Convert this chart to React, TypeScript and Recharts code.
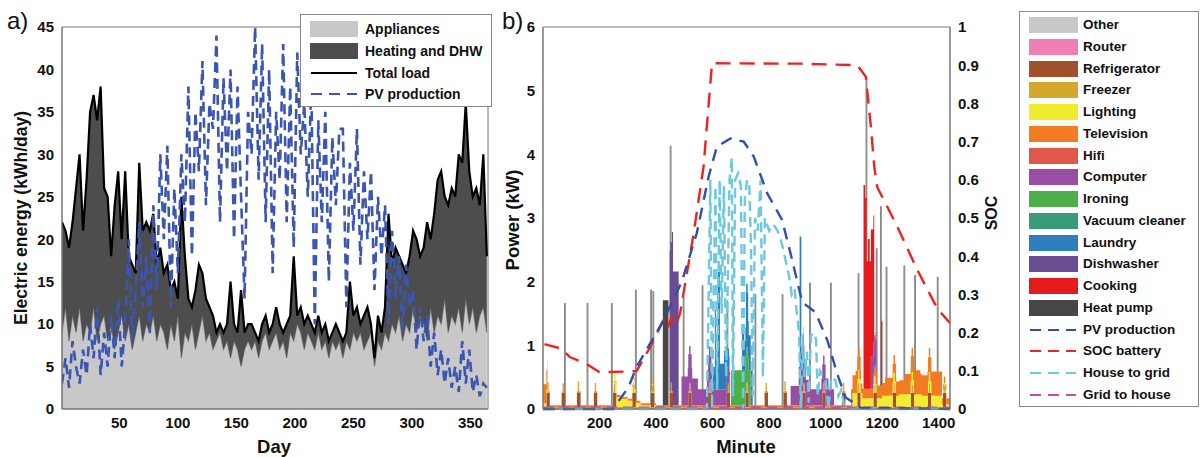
import React from 'react'
import { ComposedChart, Area, Line, XAxis, YAxis, ReferenceArea } from 'recharts'

const FONT = '"Liberation Sans", Arial, Helvetica, sans-serif'

// ---------- a) daily energy over the year, read every 3rd day ----------
const DAY_STEP = 3
const totalLoad = [
  22, 21, 19, 22, 26, 30, 21, 27, 35, 37,
  34, 38, 26, 25, 18, 24, 28, 20, 28, 18,
  17, 16, 29, 21, 22, 21, 23, 17, 19, 16,
  17, 14, 15, 13, 25, 18, 13, 12, 14, 17,
  16, 13, 12, 11, 9, 10, 9, 10, 15, 10,
  9, 14, 9, 10, 10, 9, 8, 10, 11, 9,
  10, 12, 10, 9, 10, 11, 18, 11, 12, 10,
  11, 10, 9, 11, 9, 10, 8, 9, 10, 9,
  8, 9, 15, 11, 12, 10, 11, 12, 10, 6,
  11, 9, 12, 23, 17, 19, 18, 17, 16, 18,
  21, 20, 18, 19, 22, 20, 23, 27, 28, 25,
  24, 26, 25, 30, 29, 36, 28, 25, 26, 24,
  30, 18,
]
const appliances = [
  9, 12, 8, 11, 9, 12, 8, 10, 9, 12,
  8, 10, 11, 8, 10, 7, 9, 11, 8, 10,
  7, 9, 11, 8, 10, 9, 11, 8, 10, 9,
  7, 10, 8, 11, 6, 9, 8, 10, 7, 9,
  11, 8, 9, 7, 8, 9, 7, 8, 6, 8,
  7, 5, 7, 8, 7, 8, 6, 8, 9, 7,
  8, 9, 7, 8, 6, 9, 8, 10, 9, 7,
  9, 8, 7, 9, 7, 8, 6, 8, 7, 8,
  6, 8, 7, 9, 8, 9, 7, 8, 9, 5,
  8, 7, 9, 8, 10, 9, 11, 8, 10, 9,
  12, 9, 11, 10, 8, 12, 9, 11, 10, 13,
  9, 11, 10, 12, 9, 13, 10, 12, 9, 11,
  12, 9,
]
const pvDaily = [
  3, 6, 2.5, 8, 5, 3, 7, 4, 10, 6,
  12, 4, 9, 5, 11, 6, 13, 5, 10, 20,
  8, 14, 22, 12, 18, 9, 24, 14, 30, 20,
  31, 12, 26, 16, 30, 22, 38, 18, 35, 28,
  41, 24, 36, 33, 44, 22, 39, 28, 40, 20,
  38, 25, 13, 35, 30, 45, 27, 43, 22, 40,
  16, 35, 27, 43, 22, 38, 19, 42, 30, 36,
  25, 38, 10, 34, 22, 35, 15, 32, 24, 33,
  33, 12, 29, 21, 33, 17, 28, 20, 28, 14,
  25, 18, 24, 10, 21, 13, 18, 9, 17, 12,
  14, 7, 12, 8, 11, 5, 9, 4, 7, 3,
  6, 2.5, 5, 2, 8, 3, 7, 2, 4, 1.5,
  3, 2.5,
]
const dayTicks = [50, 100, 150, 200, 250, 300, 350]
const energyTicks = [0, 5, 10, 15, 20, 25, 30, 35, 40, 45]

const yearData = totalLoad.map((t, i) => ({
  day: 1 + i * DAY_STEP,
  appliances: appliances[i],
  heating: Math.max(0, t - appliances[i]),
  total: t,
  pv: pvDaily[i],
}))

// ---------- b) one day, minute resolution ----------
type Ev = [number, number, number] // start minute, end minute, kW
type Pt = [number, number]

const routerOn: Ev[] = [[0, 1440, 0.03]]
const fridgeOn: Ev[] = [
  [12, 24, 0.22], [66, 78, 0.22], [120, 133, 0.22], [180, 192, 0.22], [248, 260, 0.22],
  [316, 328, 0.22], [382, 394, 0.22], [448, 460, 0.22], [514, 526, 0.22], [584, 596, 0.22],
  [650, 662, 0.22], [716, 728, 0.22], [784, 796, 0.22], [851, 863, 0.22], [918, 930, 0.22],
  [988, 1000, 0.22], [1058, 1070, 0.22], [1112, 1124, 0.22], [1169, 1181, 0.22],
  [1237, 1249, 0.22], [1301, 1313, 0.22], [1362, 1374, 0.22], [1415, 1427, 0.22],
]
const freezerOn: Ev[] = [
  [15, 20, 0.14], [69, 74, 0.12], [123, 128, 0.15], [183, 188, 0.13], [251, 256, 0.15],
  [319, 324, 0.14], [385, 390, 0.12], [451, 456, 0.14], [517, 522, 0.13], [587, 592, 0.15],
  [653, 658, 0.12], [719, 724, 0.14], [787, 792, 0.13], [854, 859, 0.15], [921, 926, 0.12],
  [991, 996, 0.14], [1061, 1066, 0.13], [1115, 1120, 0.15], [1172, 1177, 0.12],
  [1240, 1245, 0.14], [1304, 1309, 0.13], [1365, 1370, 0.15], [1418, 1423, 0.12],
]
const lightingOn: Ev[] = [
  [0, 16, 0.06], [250, 275, 0.16], [275, 300, 0.13], [300, 322, 0.1], [322, 345, 0.07],
  [345, 400, 0.03], [1095, 1130, 0.22], [1130, 1200, 0.14], [1200, 1260, 0.18],
  [1260, 1340, 0.2], [1340, 1412, 0.18], [1412, 1440, 0.04],
]
const televisionOn: Ev[] = [
  [0, 16, 0.3], [16, 1090, 0.03], [1090, 1106, 0.28], [1106, 1125, 0.35], [1125, 1176, 0.15],
  [1176, 1210, 0.2], [1210, 1250, 0.28], [1250, 1280, 0.22], [1280, 1300, 0.32],
  [1300, 1335, 0.38], [1335, 1360, 0.32], [1360, 1412, 0.38], [1412, 1440, 0.1],
]
const hifiOn: Ev[] = []
const computerOn: Ev[] = [
  [490, 512, 0.45], [512, 528, 0.58], [528, 548, 0.42], [548, 580, 0.25], [580, 598, 0.55],
  [598, 660, 0.25], [876, 905, 0.3], [905, 925, 0.6], [925, 940, 0.4], [940, 985, 0.25],
  [985, 1010, 0.42], [1010, 1030, 0.25], [1160, 1180, 0.5],
]
const ironingOn: Ev[] = [[665, 671, 0.55], [671, 675, 1.6], [675, 735, 0.55]]
const vacuumOn: Ev[] = []
const laundryOn: Ev[] = [
  [600, 608, 0.35], [608, 612, 1.25], [612, 618, 0.45], [618, 626, 1.85], [626, 640, 0.4],
  [640, 650, 0.6], [650, 662, 0.3], [704, 712, 0.7], [712, 718, 0.45], [718, 726, 1.0],
  [726, 742, 0.55], [908, 914, 2.05], [914, 922, 0.3],
]
const dishwasherOn: Ev[] = [[448, 456, 2.2], [456, 460, 2.5], [460, 480, 2.1]]
const cookingOn: Ev[] = [
  [1134, 1140, 3.2], [1140, 1145, 3.0], [1145, 1150, 2.0], [1150, 1156, 2.35],
  [1156, 1172, 2.0], [1196, 1201, 1.0],
]
const heatPumpOn: Ev[] = [[424, 444, 1.65]]
const otherOn: Ev[] = [
  [76, 79, 1.66], [156, 159, 1.66], [242, 245, 1.66], [327, 330, 1.87], [381, 384, 1.87],
  [389, 392, 1.85], [450, 453, 4.13], [496, 499, 1.76], [563, 566, 1.94], [651, 654, 1.7],
  [750, 753, 1.8], [846, 849, 1.8], [943, 946, 1.98], [1017, 1020, 1.98], [1115, 1118, 2.13],
  [1143, 1146, 5.2], [1179, 1182, 2.52], [1194, 1197, 3.18], [1214, 1217, 2.23],
  [1277, 1280, 2.25], [1315, 1318, 2.1], [1395, 1398, 2.07],
]

const pvPower: Pt[] = [
  [0, 0], [248, 0], [302, 0.34], [331, 0.66], [426, 1.39], [491, 2.0], [544, 2.76],
  [586, 3.65], [615, 4.12], [663, 4.25], [710, 4.2], [746, 3.96], [793, 3.39], [846, 2.97],
  [876, 2.44], [917, 1.68], [940, 1.6], [964, 1.52], [1006, 1.08], [1041, 0.55],
  [1071, 0.18], [1124, 0.02], [1440, 0],
]
const socBattery: Pt[] = [
  [5, 0.17], [65, 0.158], [95, 0.136], [154, 0.118], [201, 0.096], [331, 0.099],
  [379, 0.162], [426, 0.232], [440, 0.21], [455, 0.24], [470, 0.22], [485, 0.25],
  [533, 0.46], [568, 0.634], [598, 0.905], [911, 0.904], [1112, 0.9], [1142, 0.87],
  [1160, 0.74], [1172, 0.634], [1183, 0.58], [1254, 0.477], [1325, 0.363],
  [1396, 0.262], [1440, 0.225],
]
const houseToGrid: Pt[] = [
  [0, 0], [580, 0], [592, 3.6], [598, 0], [610, 3.5], [616, 0.3], [625, 3.6], [632, 1.5],
  [640, 3.5], [648, 0.5], [660, 3.6], [668, 3.95], [672, 0.2], [680, 3.6], [690, 3.7],
  [700, 3.5], [708, 0], [714, 3.3], [722, 3.6], [730, 3.5], [736, 2.5], [742, 0.2],
  [750, 3.0], [760, 2.8], [770, 3.6], [778, 0.5], [785, 3.0], [800, 2.8], [815, 2.9],
  [830, 2.8], [845, 2.6], [860, 2.3], [870, 2.1], [880, 1.8], [890, 1.9], [898, 1.5],
  [906, 1.2], [912, 0], [918, 1.0], [925, 0.5], [934, 0.9], [940, 0.1], [948, 1.15],
  [958, 1.2], [966, 1.1], [972, 0.2], [980, 0.6], [1000, 0.45], [1010, 0], [1020, 0.5],
  [1035, 0.45], [1045, 0.2], [1055, 0.3], [1065, 0.05], [1080, 0], [1440, 0],
]
const gridToHouse: Pt[] = [[0, 0.02], [1440, 0.02]]

const minuteTicks = [200, 400, 600, 800, 1000, 1200, 1400]
const powerTicks = [0, 1, 2, 3, 4, 5, 6]
const socTicks = [0, 0.1, 0.2, 0.3, 0.4, 0.5, 0.6, 0.7, 0.8, 0.9, 1]

// bottom → top of the stack
const stack = [
  { key: 'router', name: 'Router', color: '#f07fb4', events: routerOn },
  { key: 'fridge', name: 'Refrigerator', color: '#a0522d', events: fridgeOn },
  { key: 'freezer', name: 'Freezer', color: '#d4a82a', events: freezerOn },
  { key: 'lighting', name: 'Lighting', color: '#f2ec2e', events: lightingOn },
  { key: 'tv', name: 'Television', color: '#f47c20', events: televisionOn },
  { key: 'hifi', name: 'Hifi', color: '#e0584c', events: hifiOn },
  { key: 'computer', name: 'Computer', color: '#984ea3', events: computerOn },
  { key: 'ironing', name: 'Ironing', color: '#4daf4a', events: ironingOn },
  { key: 'vacuum', name: 'Vacuum cleaner', color: '#3a9a7a', events: vacuumOn },
  { key: 'laundry', name: 'Laundry', color: '#2f7ebc', events: laundryOn },
  { key: 'dishwasher', name: 'Dishwasher', color: '#6a4c93', events: dishwasherOn },
  { key: 'cooking', name: 'Cooking', color: '#e41a1c', events: cookingOn },
  { key: 'heatpump', name: 'Heat pump', color: '#474747', events: heatPumpOn },
]
const lines = [
  { key: 'pv', name: 'PV production', color: '#2f4fb0', pts: pvPower, axis: 'kw', dash: '12 8' },
  { key: 'soc', name: 'SOC battery', color: '#ee2222', pts: socBattery, axis: 'soc', dash: '15 9' },
  { key: 'h2g', name: 'House to grid', color: '#6cc9de', pts: houseToGrid, axis: 'kw', dash: '10 6' },
  { key: 'g2h', name: 'Grid to house', color: '#c04fae', pts: gridToHouse, axis: 'kw', dash: '10 6' },
]

const level = (events: Ev[], t: number) => {
  for (const [a, b, v] of events) if (t >= a && t < b) return v
  return 0
}

const minuteSet = new Set<number>([0, 1440])
for (const s of [...stack.map(s => s.events), otherOn]) for (const [a, b] of s) { minuteSet.add(a); minuteSet.add(b) }
for (const l of lines) for (const [m] of l.pts) minuteSet.add(m)
const minutes = [...minuteSet].sort((a, b) => a - b)

const dayData = minutes.map(t => {
  const row: Record<string, number | undefined> = { minute: t, other: level(otherOn, t) }
  for (const s of stack) row[s.key] = level(s.events, t)
  for (const l of lines) {
    const hit = l.pts.find(p => p[0] === t)
    row[l.key] = hit ? hit[1] : undefined
  }
  return row
})

const tickStyle = { fontSize: 15, fontWeight: 700, fill: '#111', fontFamily: FONT }
const AXIS = '#777'

function LegendLine({ color, dash }: { color: string; dash?: string }) {
  return (
    <svg width={50} height={16} style={{ position: 'absolute', left: 8, top: 0 }}>
      <line x1={2} y1={8} x2={48} y2={8} stroke={color} strokeWidth={2.2} strokeDasharray={dash} />
    </svg>
  )
}

const legendA = [
  { name: 'Appliances', color: '#c8c8c8', kind: 'patch' },
  { name: 'Heating and DHW', color: '#4d4d4d', kind: 'patch' },
  { name: 'Total load', color: '#000', kind: 'line' },
  { name: 'PV production', color: '#3b55b2', kind: 'dash' },
]

const legendB = [
  { name: 'Other', color: '#c8c8c8', kind: 'patch' },
  ...stack.map(s => ({ name: s.name, color: s.color, kind: 'patch' })),
  ...lines.map(l => ({ name: l.name, color: l.color, kind: 'dash' })),
]

export default function App() {
  return (
    <div style={{ position: 'absolute', left: 0, top: 0, width: 1201, height: 457, background: '#fff', fontFamily: FONT }}>
      {/* panel a */}
      <div style={{ position: 'absolute', left: 0, top: 0 }}>
        <ComposedChart width={500} height={457} data={yearData} margin={{ top: 27, right: 12, bottom: 18, left: 0 }}>
          <XAxis dataKey="day" type="number" domain={[1, 365]} ticks={dayTicks} tickLine={false} stroke={AXIS} height={30} tick={tickStyle} allowDataOverflow />
          <YAxis domain={[0, 45]} ticks={energyTicks} width={62} tickLine={false} stroke={AXIS} tick={tickStyle} />
          <Area dataKey="appliances" stackId="e" type="linear" fill="#c8c8c8" fillOpacity={1} stroke="#8a8a8a" strokeWidth={1.2} isAnimationActive={false} />
          <Area dataKey="heating" stackId="e" type="linear" fill="#4d4d4d" fillOpacity={1} stroke="none" isAnimationActive={false} />
          <Line dataKey="total" type="linear" stroke="#000" strokeWidth={2.2} dot={false} isAnimationActive={false} />
          <Line dataKey="pv" type="linear" stroke="#3b55b2" strokeWidth={2.6} strokeDasharray="10 6" dot={false} isAnimationActive={false} />
          <ReferenceArea x1={1} x2={365} y1={0} y2={45} fill="none" stroke={AXIS} ifOverflow="visible" />
        </ComposedChart>
      </div>

      {/* panel b */}
      <div style={{ position: 'absolute', left: 490, top: 0 }}>
        <ComposedChart width={520} height={457} data={dayData} margin={{ top: 27, right: 5, bottom: 18, left: 0 }}>
          <XAxis dataKey="minute" type="number" domain={[0, 1440]} ticks={minuteTicks} tickLine={false} stroke={AXIS} height={30} tick={tickStyle} allowDataOverflow />
          <YAxis yAxisId="kw" domain={[0, 6]} ticks={powerTicks} width={53} tickLine={false} stroke={AXIS} tick={tickStyle} />
          <YAxis yAxisId="soc" orientation="right" domain={[0, 1]} ticks={socTicks} width={55} tickLine={false} stroke={AXIS} tick={tickStyle} />
          <Area yAxisId="kw" dataKey="other" type="stepAfter" fill="#9a9a9a" fillOpacity={1} stroke="#8a8a8a" strokeWidth={1} isAnimationActive={false} />
          {stack.map(s => (
            <Area key={s.key} yAxisId="kw" dataKey={s.key} stackId="s" type="stepAfter" fill={s.color} fillOpacity={1} stroke="none" isAnimationActive={false} />
          ))}
          {[...lines].reverse().map(l => (
            <Line key={l.key} yAxisId={l.axis} dataKey={l.key} type="linear" stroke={l.color} strokeWidth={2.4} strokeDasharray={l.dash} dot={false} connectNulls isAnimationActive={false} />
          ))}
          <ReferenceArea yAxisId="kw" x1={0} x2={1440} y1={0} y2={6} fill="none" stroke={AXIS} ifOverflow="visible" />
        </ComposedChart>
      </div>

      {/* legend a */}
      <div style={{ position: 'absolute', left: 300, top: 14, width: 192, height: 93, border: '1px solid #888', background: '#fff', boxSizing: 'border-box' }}>
        {legendA.map((it, i) => (
          <div key={it.name} style={{ position: 'absolute', left: 0, top: 6 + i * 21.8, height: 16, width: 190 }}>
            {it.kind === 'patch'
              ? <div style={{ position: 'absolute', left: 9, top: 0, width: 48, height: 16, background: it.color }} />
              : <LegendLine color={it.color} dash={it.kind === 'dash' ? '11 7' : undefined} />}
            <div style={{ position: 'absolute', left: 64, top: -1, fontSize: 14, fontWeight: 700, lineHeight: '18px', color: '#111', whiteSpace: 'nowrap' }}>{it.name}</div>
          </div>
        ))}
      </div>

      {/* legend b */}
      <div style={{ position: 'absolute', left: 1019, top: 11, width: 180, height: 396, border: '1px solid #888', background: '#fff', boxSizing: 'border-box' }}>
        {legendB.map((it, i) => (
          <div key={it.name} style={{ position: 'absolute', left: 0, top: 5 + i * 21.76, height: 16, width: 178 }}>
            {it.kind === 'patch'
              ? <div style={{ position: 'absolute', left: 9, top: 0, width: 49, height: 16, background: it.color }} />
              : <LegendLine color={it.color} dash="11 7" />}
            <div style={{ position: 'absolute', left: 63, top: -1, fontSize: 13.5, fontWeight: 700, lineHeight: '18px', color: '#111', whiteSpace: 'nowrap' }}>{it.name}</div>
          </div>
        ))}
      </div>

      {/* titles */}
      <svg width={1201} height={457} style={{ position: 'absolute', left: 0, top: 0, pointerEvents: 'none' }}>
        <g fontFamily={FONT} fill="#111">
          <text x={7} y={29} fontSize={24}>a)</text>
          <text x={502} y={29} fontSize={24}>b)</text>
          <text x={21} y={218} fontSize={17.5} fontWeight={700} textAnchor="middle" dominantBaseline="central" transform="rotate(-90 21 218)">Electric energy (kWh/day)</text>
          <text x={274} y={446} fontSize={18.5} fontWeight={700} textAnchor="middle" dominantBaseline="central">Day</text>
          <text x={512} y={220} fontSize={18.5} fontWeight={700} textAnchor="middle" dominantBaseline="central" transform="rotate(-90 512 220)">Power (kW)</text>
          <text x={746} y={446} fontSize={18.5} fontWeight={700} textAnchor="middle" dominantBaseline="central">Minute</text>
          <text x={991} y={213} fontSize={16} fontWeight={700} textAnchor="middle" dominantBaseline="central" transform="rotate(-90 991 213)">SOC</text>
        </g>
      </svg>
    </div>
  )
}
